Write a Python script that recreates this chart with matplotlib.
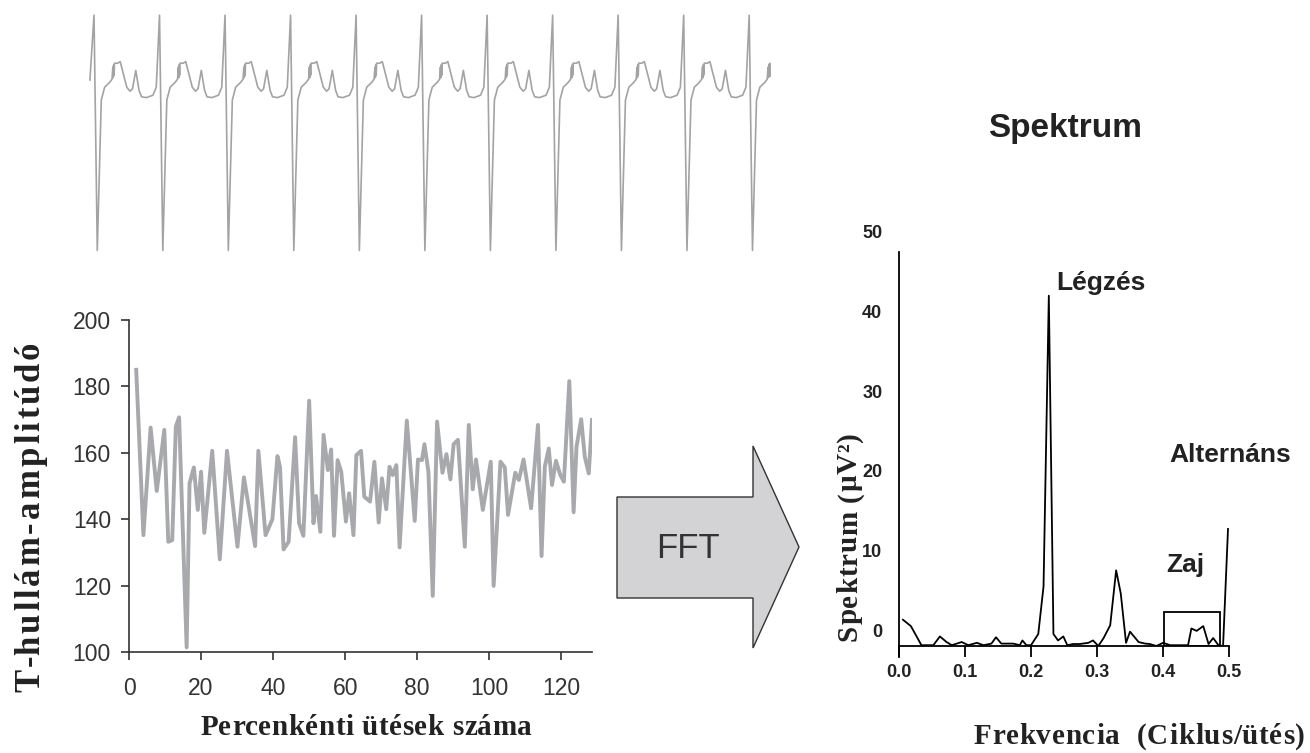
import numpy as np
import matplotlib.pyplot as plt
from matplotlib.patches import Polygon, Rectangle
from matplotlib.font_manager import FontProperties
from matplotlib.textpath import TextToPath

plt.rcParams['font.family'] = ['Liberation Sans', 'DejaVu Sans']

W, H = 1310, 753

# ECG: one beat (time in ms after R peak, amplitude in mV)
beat_t = [0, 40, 89, 130, 190, 220, 230, 235, 240, 245, 250, 290, 320, 350,
          400, 440, 470, 510, 550, 580, 640, 720, 760]
beat_v = [1.00, -1.94, -0.06, 0.10, 0.16, 0.20, 0.35, 0.22, 0.38, 0.25, 0.40,
          0.40, 0.42, 0.30, 0.10, 0.05, 0.08, 0.31, 0.06, -0.02, -0.03, 0.0, 0.10]
rr_ms = 800
n_beats = 11
ecg_start = (-50, 0.19)
ecg_end_ms = 10 * rr_ms + 256

# T-wave amplitude per beat (beat index, amplitude)
beat_x = [2, 4.0, 6.0, 7.7, 9.8, 10.9, 12.0, 13.0, 13.9, 16.0, 16.8, 18.0, 19.1,
          20.0, 20.9, 23.1, 25.2, 27.2, 30.1, 31.9, 35.0, 35.9, 37.9, 39.8,
          41.2, 41.9, 42.9, 44.3, 46.1, 47.2, 48.4, 50.0, 51.2, 51.9, 53.1,
          54.0, 55.2, 56.1, 56.9, 57.9, 58.9, 60.2, 61.1, 62.3, 63.1, 64.4,
          65.3, 66.9, 68.1, 69.3, 70.2, 71.4, 72.3, 73.2, 74.2, 75.1, 77.1,
          79.3, 80.2, 81.3, 82.0, 83.1, 84.3, 85.5, 87.0, 88.1, 89.2, 90.1,
          91.3, 93.2, 94.3, 95.4, 96.3, 98.2, 100.4, 101.2, 103.1, 104.3,
          105.2, 107.2, 108.2, 109.5, 111.6, 113.5, 114.5, 115.4, 116.5,
          117.4, 118.5, 119.7, 120.7, 122.2, 123.4, 124.2, 125.5, 126.5,
          127.6, 128.5]
t_amp = [185, 135.2, 167.6, 148.5, 166.9, 133.2, 133.7, 167.9, 170.7, 101.4,
         150.8, 155.6, 142.8, 154.3, 135.9, 160.6, 127.9, 160.6, 131.7, 152.6,
         131.9, 160.6, 135.2, 140.0, 159.0, 155.8, 130.9, 133.2, 164.7, 138.8,
         135.0, 175.7, 138.8, 147.0, 136.2, 165.4, 154.8, 161.0, 135.0, 157.8,
         154.3, 139.3, 147.8, 135.2, 159.3, 160.6, 146.8, 145.3, 157.3, 139.0,
         152.3, 143.0, 155.8, 153.3, 156.3, 131.5, 169.7, 139.5, 158.0, 157.8,
         162.6, 154.3, 116.9, 169.4, 154.0, 159.6, 152.0, 162.6, 163.9, 131.7,
         168.4, 149.0, 158.0, 142.8, 157.3, 119.9, 157.3, 155.6, 141.3, 154.0,
         151.8, 158.0, 143.3, 168.4, 128.9, 155.8, 161.3, 150.3, 157.6, 153.3,
         151.3, 181.6, 142.1, 161.8, 170.1, 158.8, 153.8, 169.9]

# spectrum
freq = [0.006, 0.018, 0.034, 0.052, 0.062, 0.072, 0.080, 0.095, 0.105, 0.118,
        0.128, 0.140, 0.147, 0.155, 0.173, 0.183, 0.187, 0.193, 0.200, 0.211,
        0.219, 0.227, 0.234, 0.241, 0.249, 0.255, 0.264, 0.274, 0.287, 0.294,
        0.302, 0.310, 0.320, 0.329, 0.336, 0.344, 0.350, 0.363, 0.373, 0.380,
        0.390, 0.400, 0.411, 0.431, 0.438, 0.443, 0.451, 0.461, 0.469, 0.476,
        0.484, 0.491, 0.4985]
power = [1.3, 0.5, -1.9, -1.9, -0.8, -1.5, -1.9, -1.5, -1.9, -1.6, -1.9, -1.7,
         -0.9, -1.7, -1.7, -1.9, -1.3, -1.9, -1.9, -0.5, 5.5, 42.0, -0.5, -1.3,
         -0.8, -1.9, -1.75, -1.75, -1.6, -1.3, -2.0, -1.0, 0.6, 7.5, 4.6, -1.6,
         -0.2, -1.5, -1.7, -1.75, -2.0, -1.6, -1.9, -1.9, -1.9, 0.2, -0.1, 0.5,
         -1.75, -1.0, -1.9, -2.0, 12.7]
noise_band = (0.402, 0.487)
noise_top = 2.3


def fx(px):
    return px / W


def fy(py):
    return 1 - py / H


t2p = TextToPath()


def spaced_text(fig, x, y, s, size, extra, rotation=0, align='center'):
    # letter-spaced serif bold label; x, y in pixels (baseline)
    prop = FontProperties(family='Liberation Serif', weight='bold', size=size)
    scale = 100 / 72
    pos = [t2p.get_text_width_height_descent(s[:i], prop, ismath=False)[0] * scale
           + i * extra for i in range(len(s))]
    total = t2p.get_text_width_height_descent(s, prop, ismath=False)[0] * scale \
        + (len(s) - 1) * extra
    start = -total / 2 if align == 'center' else -total
    for ch, p in zip(s, pos):
        if rotation == 90:
            px, py = x, y - (start + p)
        else:
            px, py = x + start + p, y
        fig.text(fx(px), fy(py), ch, fontproperties=prop, rotation=rotation,
                 rotation_mode='anchor', ha='left', va='baseline', color='#222222')


fig = plt.figure(figsize=(13.1, 7.53), dpi=100)

# --- ECG trace on top
ax0 = fig.add_axes([fx(80), fy(260), 700 / W, 260 / H])
t_all = [ecg_start[0]]
v_all = [ecg_start[1]]
for k in range(n_beats):
    for t, v in zip(beat_t, beat_v):
        tt = t + k * rr_ms
        if tt <= ecg_end_ms:
            t_all.append(tt)
            v_all.append(v)
t_all.append(ecg_end_ms)
v_all.append(0.24)
ax0.plot(t_all, v_all, color='#a3a3a3', lw=1.2)
ax0.set_xlim(-171, 8376)
ax0.set_ylim(-2.06, 1.19)
ax0.axis('off')

# --- T-wave amplitude series
ax1 = fig.add_axes([fx(129), fy(652), (592 - 129) / W, (652 - 320) / H])
ax1.plot(beat_x, t_amp, color='#a7a9ac', lw=2.8)
ax1.set_xlim(0, 128.5)
ax1.set_ylim(100, 200)
ax1.set_xticks(range(0, 121, 20))
ax1.set_yticks(range(100, 201, 20))
for s in ['top', 'right']:
    ax1.spines[s].set_visible(False)
for s in ['left', 'bottom']:
    ax1.spines[s].set_color('#333333')
    ax1.spines[s].set_linewidth(1.2)
ax1.tick_params(axis='both', colors='#333333', labelsize=16.5, length=6, width=1.2)
ax1.tick_params(axis='x', pad=12)
ax1.tick_params(axis='y', pad=7)

spaced_text(fig, 39, 517, 'T-hullám-amplitúdó', 25, 3.0, rotation=90)
spaced_text(fig, 366, 735, 'Percenkénti ütések száma', 21, 0.5)

# --- FFT arrow
arrow_pts = [(617, 497), (753, 497), (753, 446), (799, 547), (753, 648),
             (753, 598), (617, 598)]
fig.patches.append(Polygon([(fx(x), fy(y)) for x, y in arrow_pts], closed=True,
                           transform=fig.transFigure, facecolor='#d3d3d5',
                           edgecolor='#333333', lw=1.0))
fig.text(fx(688), fy(548), 'FFT', ha='center', va='center', fontsize=25,
         color='#333333')

# --- spectrum
ax2 = fig.add_axes([fx(899), fy(646), (1229 - 899) / W, (646 - 232) / H])
ax2.plot(freq, power, color='black', lw=1.3)
ax2.add_patch(Rectangle((noise_band[0], -2), noise_band[1] - noise_band[0],
                        noise_top + 2, fill=False, edgecolor='black', lw=1.3))
ax2.set_xlim(0, 0.5)
ax2.set_ylim(-2, 50)
ax2.set_xticks([0.0, 0.1, 0.2, 0.3, 0.4, 0.5])
ax2.set_xticklabels(['0.0', '0.1', '0.2', '0.3', '0.4', '0.5'])
ax2.set_yticks([0, 10, 20, 30, 40, 50])
for s in ['top', 'right']:
    ax2.spines[s].set_visible(False)
ax2.spines['left'].set_bounds(-3.4, 47.5)
ax2.spines['left'].set_linewidth(1.3)
ax2.spines['bottom'].set_linewidth(1.3)
ax2.tick_params(axis='x', length=8, width=1.3, pad=5, labelsize=13)
ax2.tick_params(axis='y', length=0, pad=12, labelsize=13)
for lab in ax2.get_xticklabels() + ax2.get_yticklabels():
    lab.set_fontweight('bold')
    lab.set_color('#222222')

spaced_text(fig, 857, 537, 'Spektrum (µV²)', 21, 0.8, rotation=90)
spaced_text(fig, 1305, 744, 'Frekvencia  (Ciklus/ütés)', 21, 0.8, align='right')
fig.text(fx(1065), fy(128), 'Spektrum', ha='center', va='center', fontsize=24,
         fontweight='bold', color='#222222')
fig.text(fx(1101), fy(283), 'Légzés', ha='center', va='center', fontsize=19,
         fontweight='bold', color='#222222')
fig.text(fx(1230), fy(455), 'Alternáns', ha='center', va='center', fontsize=19,
         fontweight='bold', color='#222222')
fig.text(fx(1185), fy(565), 'Zaj', ha='center', va='center', fontsize=19,
         fontweight='bold', color='#222222')

fig.savefig('out.png', dpi=100)
